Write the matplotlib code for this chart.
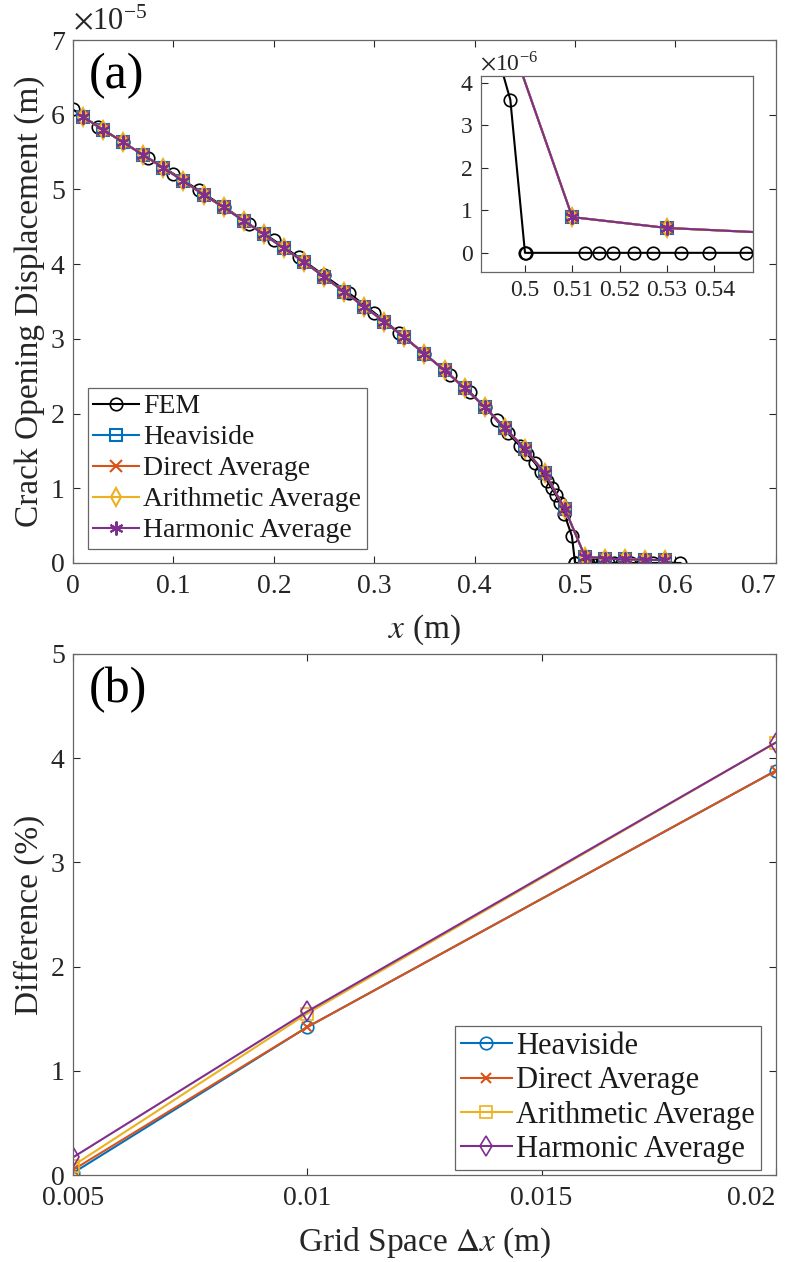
import numpy as np
import matplotlib.pyplot as plt
from matplotlib.ticker import FuncFormatter

plt.rcParams['font.family'] = ['Liberation Serif', 'DejaVu Serif']
plt.rcParams['mathtext.fontset'] = 'stix'

# ---- data, panel (a): crack opening displacement (m)
x_fem = [0, 0.025, 0.05, 0.075, 0.1, 0.125, 0.15, 0.175, 0.2, 0.225, 0.25, 0.275,
         0.3, 0.325, 0.35, 0.375, 0.395, 0.41, 0.422, 0.433, 0.445, 0.452, 0.46,
         0.466, 0.472, 0.477, 0.481, 0.485, 0.4895, 0.4969, 0.5, 0.5003, 0.5126,
         0.5156, 0.5187, 0.523, 0.527, 0.533, 0.5388, 0.5467, 0.556, 0.566, 0.578,
         0.59, 0.605]
y_fem = [6.07, 5.84, 5.63, 5.42, 5.21, 4.99, 4.77, 4.54, 4.32, 4.09, 3.85, 3.61,
         3.35, 3.08, 2.80, 2.52, 2.29, 2.09, 1.91, 1.74, 1.57, 1.46, 1.34,
         1.22, 1.10, 1.00, 0.91, 0.80, 0.65, 0.36, 0, 0, 0,
         0, 0, 0, 0, 0, 0, 0, 0, 0, 0,
         0, 0]

x_xfem = [0.01, 0.03, 0.05, 0.07, 0.09, 0.11, 0.13, 0.15, 0.17, 0.19, 0.21, 0.23,
          0.25, 0.27, 0.29, 0.31, 0.33, 0.35, 0.37, 0.39, 0.41, 0.43, 0.45, 0.47,
          0.49, 0.51, 0.53, 0.55, 0.57, 0.59]
y_heaviside = [5.97, 5.80, 5.63, 5.46, 5.29, 5.11, 4.93, 4.76, 4.58, 4.40, 4.21, 4.03,
               3.83, 3.63, 3.43, 3.23, 3.02, 2.80, 2.58, 2.34, 2.09, 1.81, 1.53, 1.20,
               0.72, 0.084, 0.0585, 0.048, 0.042, 0.038]
y_direct = list(y_heaviside)
y_arith = list(y_heaviside)
y_harm = list(y_heaviside)

# ---- data, panel (b): difference (%)
dx = [0.005, 0.01, 0.02]
d_heaviside = [0.02, 1.42, 3.88]
d_direct = [0.05, 1.42, 3.88]
d_arith = [0.09, 1.55, 4.15]
d_harm = [0.17, 1.57, 4.15]

c_blue = '#0072BD'
c_red = '#D95319'
c_orange = '#EDB120'
c_purple = '#7E2F8E'
ax_col = '#262626'
asterisk = (6, 2, 0)

sc = 1e-5
fig = plt.figure(figsize=(7.99, 12.62), dpi=100)
ax1 = fig.add_axes([0.0914, 0.5539, 0.8796, 0.4144])
ax2 = fig.add_axes([0.0914, 0.0689, 0.8796, 0.4129])


def style(ax, size=20):
    ax.tick_params(direction='in', top=True, right=True, labelsize=size,
                   colors=ax_col, length=5, width=0.8, pad=8)
    for s in ax.spines.values():
        s.set_color('#666666')
        s.set_linewidth(0.9)


def draw_cod(ax):
    ax.plot(x_fem, np.array(y_fem) * sc, '-o', color='black', lw=1.5, ms=9,
            mfc='none', mew=1.2, label='FEM')
    ax.plot(x_xfem, np.array(y_heaviside) * sc, '-s', color=c_blue, lw=1.5, ms=8,
            mfc='none', mew=1.5, label='Heaviside')
    ax.plot(x_xfem, np.array(y_direct) * sc, '-x', color=c_red, lw=1.5, ms=8,
            mew=1.5, label='Direct Average')
    ax.plot(x_xfem, np.array(y_arith) * sc, '-d', color=c_orange, lw=1.5, ms=9,
            mfc='none', mew=1.5, label='Arithmetic Average')
    ax.plot(x_xfem, np.array(y_harm) * sc, '-', marker=asterisk, color=c_purple,
            lw=1.5, ms=10, mew=1.5, label='Harmonic Average')


def legend(ax, loc, anchor, size, spacing):
    lg = ax.legend(loc=loc, bbox_to_anchor=anchor, fontsize=size,
                   handlelength=1.65, handletextpad=0.15, borderpad=0.2,
                   labelspacing=spacing, borderaxespad=0, fancybox=False, framealpha=1)
    lg.get_frame().set_edgecolor('#666666')
    lg.get_frame().set_linewidth(0.9)
    for t in lg.get_texts():
        t.set_color('#1a1a1a')
    return lg


draw_cod(ax1)
ax1.set_xlim(0, 0.7)
ax1.set_ylim(0, 7e-5)
ax1.set_xticks(np.arange(0, 0.71, 0.1))
ax1.set_yticks(np.arange(0, 8) * 1e-5)
ax1.xaxis.set_major_formatter(FuncFormatter(lambda v, p: '%g' % round(v, 3)))
ax1.yaxis.set_major_formatter(FuncFormatter(lambda v, p: '%g' % round(v / 1e-5, 3)))
style(ax1)
ax1.tick_params(axis='y', pad=6)
ax1.text(0.0, 1.006, r'$\times\mathregular{10}^{\mathregular{-5}}$', transform=ax1.transAxes,
         fontsize=22, color=ax_col, ha='left', va='bottom')
ax1.set_ylabel('Crack Opening Displacement (m)', fontsize=24, color=ax_col, labelpad=4)
ax1.set_xlabel('$x$ (m)', fontsize=24, color=ax_col, labelpad=10)
ax1.text(0.022, 0.975, '(a)', transform=ax1.transAxes, fontsize=36, va='top', ha='left')
legend(ax1, 'lower left', (0.021, 0.027), 20, 0.2)

# inset
axi = fig.add_axes([0.602, 0.7845, 0.3404, 0.1553])
draw_cod(axi)
axi.set_xlim(0.4907, 0.5482)
axi.set_ylim(-0.45e-6, 4.16e-6)
axi.set_xticks([0.5, 0.51, 0.52, 0.53, 0.54])
axi.set_yticks(np.arange(0, 5) * 1e-6)
axi.xaxis.set_major_formatter(FuncFormatter(lambda v, p: '%g' % round(v, 3)))
axi.yaxis.set_major_formatter(FuncFormatter(lambda v, p: '%g' % round(v / 1e-6, 3)))
style(axi, 17)
axi.tick_params(top=False, right=False, pad=6)
axi.text(-0.005, 1.0, r'$\times\mathregular{10}^{\mathregular{-6}}$', transform=axi.transAxes,
         fontsize=17, color=ax_col, ha='left', va='bottom')

# panel (b)
ax2.plot(dx, d_heaviside, '-o', color=c_blue, lw=1.5, ms=9, mfc='none', mew=1.2,
         label='Heaviside')
ax2.plot(dx, d_direct, '-x', color=c_red, lw=1.5, ms=7, mew=1.5, label='Direct Average')
ax2.plot(dx, d_arith, '-s', color=c_orange, lw=1.5, ms=8, mfc='none', mew=1.2,
         label='Arithmetic Average')
ax2.plot(dx, d_harm, '-d', color=c_purple, lw=1.5, ms=10, mfc='none', mew=1.2,
         label='Harmonic Average')
ax2.set_xlim(0.005, 0.02)
ax2.set_ylim(0, 5)
ax2.set_xticks([0.005, 0.01, 0.015, 0.02])
ax2.xaxis.set_major_formatter(FuncFormatter(lambda v, p: '%g' % round(v, 4)))
ax2.set_yticks(range(0, 6))
style(ax2)
ax2.tick_params(axis='y', pad=6)
ax2.set_ylabel('Difference (%)', fontsize=24, color=ax_col, labelpad=4)
ax2.set_xlabel(r'Grid Space $\Delta x$ (m)', fontsize=24, color=ax_col, labelpad=10)
ax2.text(0.022, 0.975, '(b)', transform=ax2.transAxes, fontsize=36, va='top', ha='left')
legend(ax2, 'lower right', (0.979, 0.01), 22, 0.17)

# last x tick labels kept inside the figure
for ax in (ax1, ax2):
    fig.canvas.draw()
    ax.get_xticklabels()[-1].set_horizontalalignment('right')

fig.savefig('out.png', dpi=100)
